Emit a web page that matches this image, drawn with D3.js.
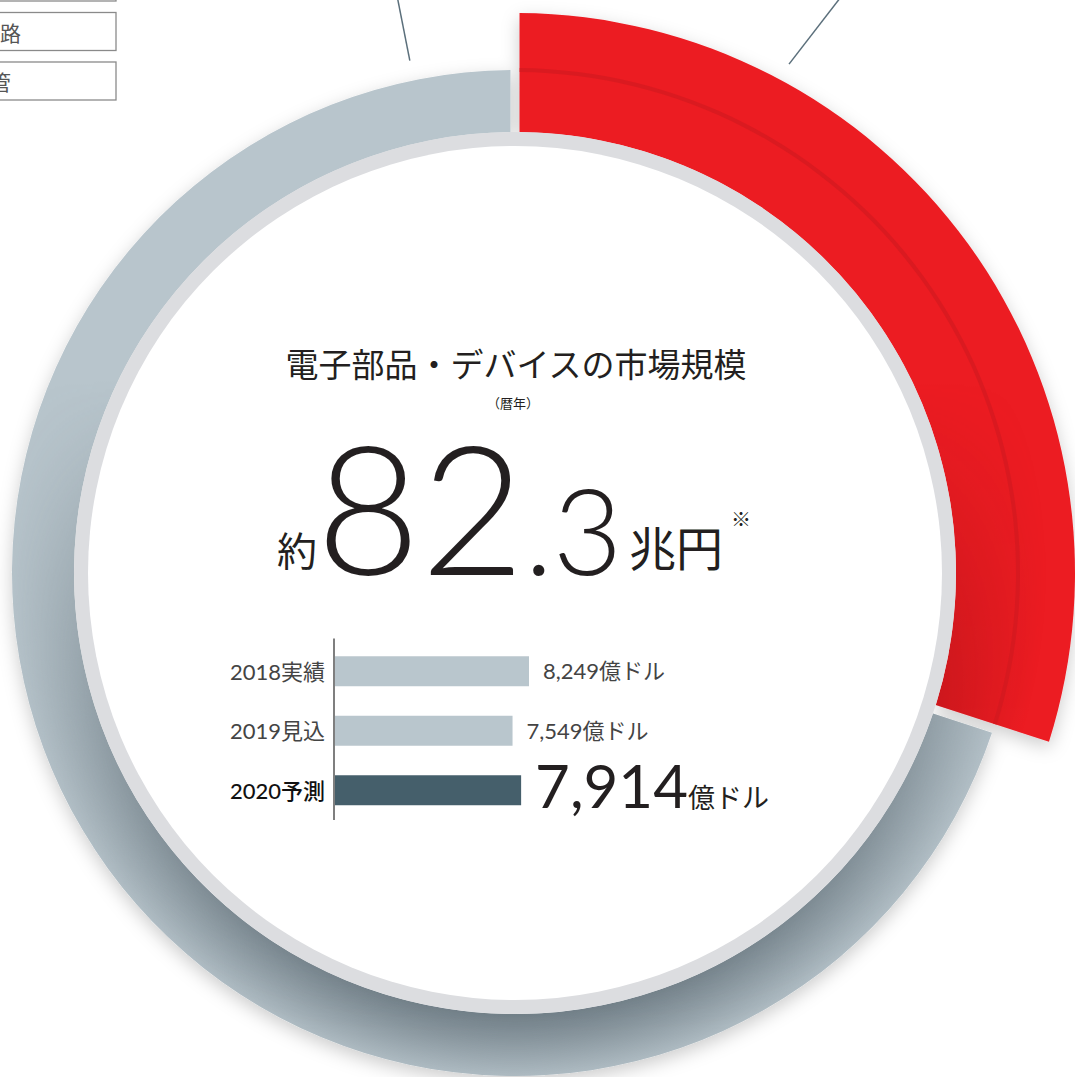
<!DOCTYPE html>
<html>
<head>
<meta charset="utf-8">
<script src="https://cdn.jsdelivr.net/npm/d3@7"></script>
<style>
  body { margin: 0; background: #fff; }
  svg { display: block; }
</style>
</head>
<body>
<script>
let width = 1075,
    height = 1077

// ring: share of the whole market
const ringLabels = ['電子部品・デバイス', 'その他']
const ringShares = [30, 70]

// legend boxes (cut off at the left edge)
const legendLabels = ['半導体素子', '集積回路', '電子管']

// small bar chart
const barYears = ['2018実績', '2019見込', '2020予測']
const barValues = [8249, 7549, 7914]
const barValueLabels = ['8,249', '7,549', '7,914']
const barUnit = '億ドル'

const cx = 515, cy = 573
const rInner = 441, rGray = 503, rRed = 560
const rLight = 427

let svg = d3.select('body').append('svg')
  .attr('width', width)
  .attr('height', height)

let defs = svg.append('defs')

let shadow = defs.append('filter')
  .attr('id', 'shadow')
  .attr('x', '-20%').attr('y', '-20%')
  .attr('width', '140%').attr('height', '140%')
shadow.append('feDropShadow')
  .attr('dx', 0).attr('dy', 6)
  .attr('stdDeviation', 9)
  .attr('flood-color', '#000')
  .attr('flood-opacity', 0.2)

// dark shading near the inner edge (gradients live in ring-centred coords)
let grayShade = defs.append('radialGradient')
  .attr('id', 'grayShade')
  .attr('gradientUnits', 'userSpaceOnUse')
  .attr('cx', 0).attr('cy', 0).attr('r', rGray)
grayShade.append('stop').attr('offset', rInner / rGray).attr('stop-color', '#4f5d66').attr('stop-opacity', 0.7)
grayShade.append('stop').attr('offset', 1).attr('stop-color', '#4f5d66').attr('stop-opacity', 0.1)

let redShade = defs.append('radialGradient')
  .attr('id', 'redShade')
  .attr('gradientUnits', 'userSpaceOnUse')
  .attr('cx', 0).attr('cy', 0).attr('r', rRed)
redShade.append('stop').attr('offset', rInner / rRed).attr('stop-color', '#6e0a0e').attr('stop-opacity', 0.5)
redShade.append('stop').attr('offset', 0.95).attr('stop-color', '#6e0a0e').attr('stop-opacity', 0)

// the shading only shows toward the bottom of the ring
let fadeGrad = defs.append('linearGradient')
  .attr('id', 'fadeGrad')
  .attr('gradientUnits', 'userSpaceOnUse')
  .attr('x1', 0).attr('y1', 380).attr('x2', 0).attr('y2', cy + rGray - 40)
fadeGrad.append('stop').attr('offset', 0).attr('stop-color', '#fff').attr('stop-opacity', 0)
fadeGrad.append('stop').attr('offset', 1).attr('stop-color', '#fff').attr('stop-opacity', 1)

defs.append('mask').attr('id', 'fadeMask')
  .attr('maskUnits', 'userSpaceOnUse')
  .attr('x', 0).attr('y', 0).attr('width', width).attr('height', height)
  .append('rect')
  .attr('width', width).attr('height', height)
  .attr('fill', 'url(#fadeGrad)')

// legend boxes
let legend = svg.append('g').attr('class', 'legend')
const legendEnds = [0, 21, 11]
legendLabels.forEach((t, i) => {
  let y0 = -37 + i * 49.5
  legend.append('rect')
    .attr('x', -300).attr('y', y0)
    .attr('width', 416).attr('height', 38)
    .attr('fill', '#fff')
    .attr('stroke', '#8a8a8a')
    .attr('stroke-width', 1.3)
  legend.append('text')
    .attr('x', legendEnds[i]).attr('y', y0 + 19)
    .attr('text-anchor', 'end')
    .attr('dominant-baseline', 'central')
    .attr('font-family', "'Noto Sans CJK JP'")
    .attr('font-size', 21)
    .attr('fill', '#555')
    .text(t)
})

// leader lines, in polar coordinates around the ring centre
const polar = (r, deg) => [cx + r * Math.sin(deg * Math.PI / 180), cy - r * Math.cos(deg * Math.PI / 180)]
const leaders = [[[523, -11.6], [590, -11.55]], [[578, 28.3], [670, 29.6]]]
svg.append('g').selectAll('line')
  .data(leaders)
  .join('line')
  .attr('x1', d => polar(...d[0])[0]).attr('y1', d => polar(...d[0])[1])
  .attr('x2', d => polar(...d[1])[0]).attr('y2', d => polar(...d[1])[1])
  .attr('stroke', '#5b6f7b')
  .attr('stroke-width', 1.5)

// ring
let pie = d3.pie().sort(null).value(d => d)
let slices = pie(ringShares)
const padA = 0.0135, padR = 670

let ring = svg.append('g').attr('transform', `translate(${cx},${cy})`)

let arcFor = i => d3.arc()
  .innerRadius(rInner)
  .outerRadius(i === 0 ? rRed : rGray)
  .padAngle(padA)
  .padRadius(padR)

ring.append('g').attr('filter', 'url(#shadow)')
  .selectAll('path')
  .data(slices)
  .join('path')
  .attr('d', (d, i) => arcFor(i)(d))
  .attr('fill', (d, i) => i === 0 ? '#ec1c24' : '#b8c5cc')

// shading overlays
let shadeG = svg.append('g').attr('mask', 'url(#fadeMask)')
  .append('g').attr('transform', `translate(${cx},${cy})`)
shadeG.selectAll('path')
  .data(slices)
  .join('path')
  .attr('d', (d, i) => arcFor(i)(d))
  .attr('fill', (d, i) => i === 0 ? 'url(#redShade)' : 'url(#grayShade)')

let ring2 = svg.append('g').attr('transform', `translate(${cx},${cy})`)

// darker band on the red slice where the gray ring would end
ring2.append('path')
  .attr('d', d3.arc()
    .innerRadius(rGray - 2).outerRadius(rGray + 2)
    .startAngle(slices[0].startAngle + padA * padR / rGray / 2)
    .endAngle(slices[0].endAngle - padA * padR / rGray / 2)())
  .attr('fill', '#cf1920')
  .attr('opacity', 0.6)

// light inner ring and white disc
ring2.append('circle').attr('r', rInner).attr('fill', '#dcdde0')
ring2.append('circle').attr('r', rLight).attr('fill', '#fff')

// centre text
let font = "'Noto Sans CJK JP'"
svg.append('text')
  .attr('x', 516).attr('y', 377)
  .attr('text-anchor', 'middle')
  .attr('font-family', font)
  .attr('font-size', 33)
  .attr('fill', '#231f20')
  .text('電子部品・デバイスの市場規模')

svg.append('text')
  .attr('x', 513).attr('y', 408)
  .attr('text-anchor', 'middle')
  .attr('font-family', font)
  .attr('font-size', 13)
  .attr('fill', '#231f20')
  .text('（暦年）')

svg.append('text')
  .attr('x', 277).attr('y', 566)
  .attr('font-family', font)
  .attr('font-size', 40)
  .attr('fill', '#231f20')
  .text('約')

let big = svg.append('text')
  .attr('x', 316).attr('y', 575)
  .attr('font-family', 'Lato, sans-serif')
  .attr('font-weight', 300)
  .attr('fill', '#231f20')
big.append('tspan').attr('font-size', 180).text('82')
big.append('tspan').attr('font-size', 120).text('.3')

svg.append('text')
  .attr('x', 629).attr('y', 566)
  .attr('font-family', font)
  .attr('font-size', 47)
  .attr('fill', '#231f20')
  .text('兆円')

svg.append('text')
  .attr('x', 741).attr('y', 518)
  .attr('text-anchor', 'middle')
  .attr('dominant-baseline', 'central')
  .attr('font-family', font)
  .attr('font-size', 20)
  .attr('fill', '#231f20')
  .text('※')

// bar chart
let x = d3.scaleLinear().domain([0, d3.max(barValues)]).range([335, 529])
let y = d3.scaleBand().domain(barYears).range([641.5, 820]).paddingInner(0.496).paddingOuter(0.248)
let last = barYears.length - 1

let bars = svg.append('g').attr('class', 'bars')
bars.selectAll('rect')
  .data(barValues)
  .join('rect')
  .attr('x', x(0))
  .attr('y', (d, i) => y(barYears[i]))
  .attr('width', d => x(d) - x(0))
  .attr('height', y.bandwidth())
  .attr('fill', (d, i) => i === last ? '#455f6b' : '#b9c6cd')

bars.append('line')
  .attr('x1', x(0) - 1).attr('x2', x(0) - 1)
  .attr('y1', y.range()[0] - 3).attr('y2', y.range()[1])
  .attr('stroke', '#555')
  .attr('stroke-width', 1.5)

bars.selectAll('.year')
  .data(barYears)
  .join('text')
  .attr('class', 'year')
  .attr('x', 325)
  .attr('y', d => y(d) + y.bandwidth() / 2)
  .attr('text-anchor', 'end')
  .attr('dominant-baseline', 'central')
  .attr('font-family', "Lato, 'Noto Sans CJK JP'")
  .attr('font-size', 22)
  .attr('fill', (d, i) => i === last ? '#111' : '#444')
  .attr('font-weight', (d, i) => i === last ? 500 : 400)
  .text(d => d)

let vals = bars.selectAll('.val')
  .data(barValues)
  .join('text')
  .attr('class', 'val')
  .attr('x', d => x(d) + 14)
  .attr('y', (d, i) => y(barYears[i]) + y.bandwidth() / 2 + (i === last ? 18 : 8))
  .attr('font-family', "Lato, 'Noto Sans CJK JP'")
  .attr('fill', (d, i) => i === last ? '#231f20' : '#444')
vals.append('tspan')
  .attr('font-size', (d, i) => i === last ? 60 : 22)
  .text((d, i) => barValueLabels[i])
vals.append('tspan')
  .attr('font-size', (d, i) => i === last ? 27 : 22)
  .attr('font-family', "'Noto Sans CJK JP'")
  .text(barUnit)
</script>
</body>
</html>
